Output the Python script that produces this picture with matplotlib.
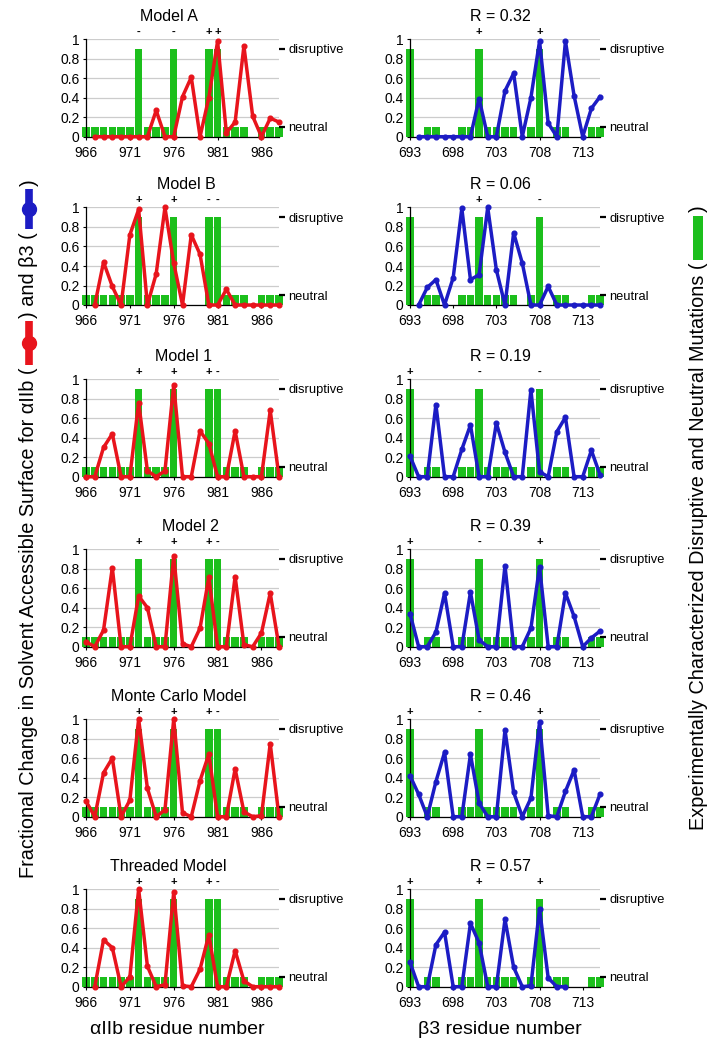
import numpy as np
import matplotlib
matplotlib.use("Agg")
import matplotlib.pyplot as plt
from matplotlib.lines import Line2D
from matplotlib.patches import Rectangle

plt.rcParams['font.family'] = ['Liberation Sans', 'DejaVu Sans']

nan = np.nan

# ---------------- data ----------------
alpha_res = list(range(966, 989))
beta_res = list(range(693, 716))

alpha_exp = [0.1, 0.1, 0.1, 0.1, 0.1, 0.1, 0.9, 0.1, 0.1, 0.1, 0.9, 0, 0, 0,
             0.9, 0.9, 0.1, 0.1, 0.1, 0, 0.1, 0.1, 0.1]
beta_exp = [0.9, 0, 0.1, 0.1, 0, 0, 0.1, 0.1, 0.9, 0.1, 0.1, 0.1, 0.1, 0,
            0.1, 0.9, 0, 0.1, 0.1, 0, 0, 0.1, 0.1]

alpha_titles = ["Model A", "Model B", "Model 1", "Model 2",
                "Monte Carlo Model", "Threaded Model"]
beta_titles = ["R = 0.32", "R = 0.06", "R = 0.19", "R = 0.39",
               "R = 0.46", "R = 0.57"]

alpha_modelA = [nan, 0, 0, 0, 0, 0, 0, 0, 0.27, 0, 0, 0.41, 0.61, 0, 0.40,
                0.98, 0.04, 0.15, 0.93, 0.21, 0, 0.19, 0.15]
alpha_modelB = [nan, 0, 0.44, 0.19, 0, 0.72, 0.98, 0, 0.32, 1.0, 0.43, 0,
                0.72, 0.52, 0, 0, 0.16, 0, 0, 0, 0, 0, 0]
alpha_model1 = [0, 0, 0.30, 0.44, 0, 0, 0.76, 0.06, 0, 0.06, 0.94, 0, 0,
                0.47, 0.34, 0, 0, 0.47, 0, 0, 0, 0.68, 0]
alpha_model2 = [0.05, 0, 0.17, 0.81, 0, 0, 0.52, 0.40, 0, 0, 0.93, 0.03, 0,
                0.19, 0.71, 0, 0, 0.72, 0.02, 0, 0.14, 0.55, 0]
alpha_mc = [0.16, 0, 0.45, 0.60, 0, 0.17, 1.0, 0.29, 0, 0.07, 1.0, 0.04, 0,
            0.37, 0.64, 0, 0, 0.49, 0.05, 0, 0.01, 0.75, 0]
alpha_threaded = [nan, 0, 0.48, 0.40, 0, 0.10, 1.0, 0.21, 0, 0.02, 0.97, 0.01,
                  0, 0.18, 0.53, 0, 0, 0.37, 0.06, 0, 0, 0, 0]

beta_r032 = [nan, 0, 0, 0, 0, 0, 0, 0, 0.39, 0, 0, 0.47, 0.65, 0, 0.40, 0.98,
             0.14, 0, 0.98, 0.42, 0, 0.29, 0.41]
beta_r006 = [nan, 0, 0.18, 0.26, 0, 0.28, 0.99, 0.26, 0.31, 1.0, 0.36, 0,
             0.74, 0.43, 0, 0, 0.19, 0, 0, 0, 0, 0, 0]
beta_r019 = [0.21, 0, 0, 0.74, 0, 0, 0.28, 0.53, 0, 0, 0.55, 0.25, 0, 0, 0.89,
             0.05, 0, 0.46, 0.61, 0, 0, 0.27, 0.02]
beta_r039 = [0.34, 0, 0, 0.15, 0.55, 0, 0, 0.56, 0.07, 0, 0, 0.83, 0, 0, 0.19,
             0.82, 0, 0, 0.55, 0.31, 0, 0.09, 0.16]
beta_r046 = [0.42, 0.23, 0, 0.36, 0.66, 0, 0, 0.64, 0.14, 0, 0, 0.89, 0.25, 0,
             0.19, 0.97, 0.01, 0, 0.26, 0.48, 0, 0, 0.23]
beta_r057 = [0.25, 0, 0, 0.43, 0.56, 0, 0, 0.65, 0.45, 0, 0, 0.69, 0.20, 0,
             0.01, 0.80, 0.09, 0, 0, nan, nan, nan, nan]

alpha_series = [alpha_modelA, alpha_modelB, alpha_model1, alpha_model2,
                alpha_mc, alpha_threaded]
beta_series = [beta_r032, beta_r006, beta_r019, beta_r039, beta_r046, beta_r057]

alpha_sign_res = [972, 976, 980, 981]
alpha_signs = [['-', '-', '+', '+'], ['+', '+', '-', '-'], ['+', '+', '+', '-'],
               ['+', '+', '+', '-'], ['+', '+', '+', '-'], ['+', '+', '+', '-']]
beta_sign_res = [693, 701, 708]
beta_signs = [['', '+', '+'], ['', '+', '-'], ['+', '-', '-'],
              ['+', '-', '+'], ['+', '-', '+'], ['+', '+', '+']]

alpha_ticks = [966, 971, 976, 981, 986]
beta_ticks = [693, 698, 703, 708, 713]

# ---------------- style / layout ----------------
RED = '#e8141c'
BLUE = '#1c1cc4'
GREEN = '#1cbf1c'
W, H = 719, 1048
fig = plt.figure(figsize=(W / 100, H / 100), dpi=100)

row_bottom = [136.7, 305, 476.7, 646.7, 816.7, 986.7]
ax_h = 97.5
left_x = (86, 279)
right_x = (410, 600)
alpha_title_x = [169, 186, 183, 190, 179, 168]
beta_title_x = [500, 500, 500, 500, 500, 500]


def make_panel(xr, yb, res, exp, vals, color, xlim, ticks, sign_res, signs,
               title, title_x):
    ax = fig.add_axes([xr[0] / W, 1 - yb / H, (xr[1] - xr[0]) / W, ax_h / H])
    ax.bar(res, exp, width=0.86, color=GREEN, linewidth=0, clip_on=False,
           zorder=2)
    ax.plot(res, vals, color=color, lw=2.5, marker='o', ms=3.4,
            clip_on=False, zorder=3)
    ax.set_xlim(*xlim)
    ax.set_ylim(0, 1)
    ax.set_yticks([0, 0.2, 0.4, 0.6, 0.8, 1.0])
    ax.set_yticklabels(['0', '0.2', '0.4', '0.6', '0.8', '1'])
    ax.set_xticks(ticks)
    ax.set_xticklabels([str(t) for t in ticks])
    ax.yaxis.grid(True, color='#cccccc', lw=0.9)
    ax.set_axisbelow(True)
    for s in ['top', 'right']:
        ax.spines[s].set_visible(False)
    for s in ['left', 'bottom']:
        ax.spines[s].set_linewidth(0.9)
    ax.tick_params(axis='both', labelsize=10, length=2.5, width=0.8, pad=2)
    ax.tick_params(axis='x', pad=4)
    tw = ax.twinx()
    tw.set_ylim(0, 1)
    tw.set_yticks([0.1, 0.9])
    tw.set_yticklabels(['neutral', 'disruptive'])
    tw.tick_params(axis='y', labelsize=9.3, length=4.5, width=1.6, pad=2)
    for s in tw.spines.values():
        s.set_visible(False)
    for r, sg in zip(sign_res, signs):
        if sg:
            ax.text(r, 1.075, sg, ha='center', va='center', fontsize=8,
                    fontweight='bold', clip_on=False)
    fig.text(title_x / W, 1 - (yb - ax_h - 23) / H, title, ha='center',
             va='center', fontsize=11.5)
    return ax


for i in range(6):
    make_panel(left_x, row_bottom[i], alpha_res, alpha_exp, alpha_series[i],
               RED, (966, 988), alpha_ticks, alpha_sign_res, alpha_signs[i],
               alpha_titles[i], alpha_title_x[i])
    make_panel(right_x, row_bottom[i], beta_res, beta_exp, beta_series[i],
               BLUE, (693, 715), beta_ticks, beta_sign_res, beta_signs[i],
               beta_titles[i], beta_title_x[i])

fig.text(177 / W, 1 - 1030 / H, 'αIIb residue number', ha='center',
         va='center', fontsize=14)
fig.text(500 / W, 1 - 1030 / H, 'β3 residue number', ha='center',
         va='center', fontsize=14)

# ---------------- vertical labels with legend icons ----------------
fig.canvas.draw()
renderer = fig.canvas.get_renderer()


def line_icon(x, y0, y1, color):
    ym = (y0 + y1) / 2
    fig.add_artist(Line2D([x / W, x / W], [(y0 + 3) / H, (y1 - 3) / H],
                          transform=fig.transFigure, color=color, lw=5.5,
                          solid_capstyle='butt'))
    fig.add_artist(Line2D([x / W], [ym / H], transform=fig.transFigure,
                          color=color, marker='o', ms=10, lw=0))


def bar_icon(x, y0, y1, color):
    fig.add_artist(Rectangle(((x - 5) / W, (y0 + 3) / H), 10 / W,
                             (y1 - y0 - 6) / H, transform=fig.transFigure,
                             color=color, lw=0))


def stack(x, y_img_start, pieces, fs):
    y = H - y_img_start
    for p in pieces:
        if isinstance(p, str):
            t = fig.text(x / W, y / H, p, rotation=90, ha='center',
                         va='bottom', fontsize=fs)
            bb = t.get_window_extent(renderer)
            y = bb.y1
        else:
            kind, color, length = p
            if kind == 'line':
                line_icon(x, y, y + length, color)
            else:
                bar_icon(x, y, y + length, color)
            y += length


stack(29, 878, ['Fractional Change in Solvent Accessible Surface for αIIb (',
                ('line', RED, 50), ') and β3 (', ('line', BLUE, 46), ')'], 14.3)
stack(698, 830, ['Experimentally Characterized Disruptive and Neutral Mutations (',
                 ('bar', GREEN, 50), ')'], 14.3)

fig.savefig('out.png', dpi=100)
